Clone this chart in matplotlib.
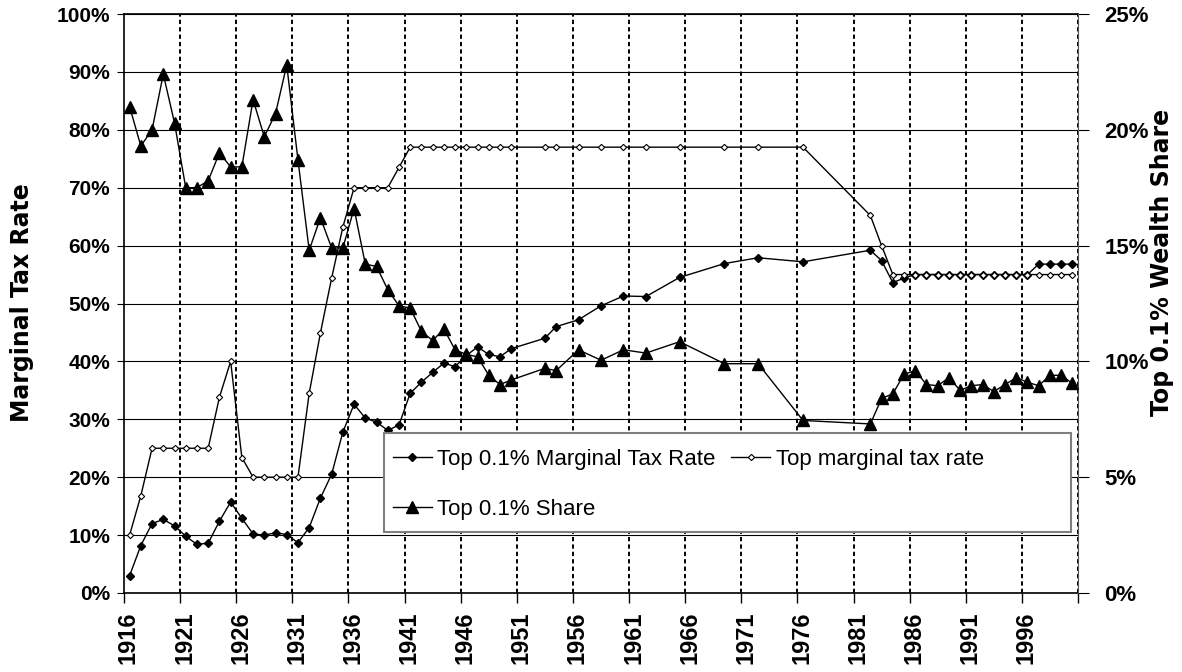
import numpy as np
import matplotlib.pyplot as plt
from matplotlib.patches import Rectangle

plt.rcParams['font.family'] = ['Liberation Sans', 'DejaVu Sans']

# ---------------------------------------------------------------------------
# DATA
years = ([1916, 1917, 1918, 1919, 1920, 1921, 1922, 1923, 1924, 1925,
          1926, 1927, 1928, 1929, 1930, 1931, 1932, 1933, 1934, 1935,
          1936, 1937, 1938, 1939, 1940, 1941, 1942, 1943, 1944, 1945,
          1946, 1947, 1948, 1949, 1950]
         + [1953, 1954, 1956, 1958, 1960, 1962, 1965, 1969, 1972, 1976]
         + [1982, 1983, 1984, 1985, 1986, 1987, 1988, 1989, 1990, 1991,
            1992, 1993, 1994, 1995, 1996, 1997, 1998, 1999, 2000])

# Top 0.1% marginal tax rate (%), left axis
top01_rate = [3.0, 8.2, 12.0, 12.7, 11.6, 9.8, 8.4, 8.6, 12.4, 15.7,
              12.9, 10.2, 10.0, 10.4, 10.1, 8.7, 11.3, 16.4, 20.5, 27.8,
              32.6, 30.2, 29.5, 28.1, 29.0, 34.5, 36.4, 38.1, 39.7, 39.1,
              41.0, 42.5, 41.2, 40.8, 42.2,
              44.0, 46.0, 47.2, 49.6, 51.3, 51.2, 54.5, 56.9, 57.9, 57.2,
              59.2, 57.4, 53.6, 54.4, 55.0, 55.0, 55.0, 55.0, 55.0, 55.0,
              55.0, 55.0, 55.0, 55.0, 55.0, 56.8, 56.8, 56.8, 56.8]

# Top marginal tax rate (%), left axis
top_rate = [10.0, 16.8, 25.0, 25.0, 25.0, 25.0, 25.0, 25.0, 33.8, 40.0,
            23.4, 20.0, 20.0, 20.0, 20.0, 20.0, 34.5, 44.9, 54.4, 63.2,
            70.0, 70.0, 70.0, 70.0, 73.5, 77.0, 77.0, 77.0, 77.0, 77.0,
            77.0, 77.0, 77.0, 77.0, 77.0,
            77.0, 77.0, 77.0, 77.0, 77.0, 77.0, 77.0, 77.0, 77.0, 77.0,
            65.2, 60.0, 55.0, 55.0, 55.0, 55.0, 55.0, 55.0, 55.0, 55.0,
            55.0, 55.0, 55.0, 55.0, 55.0, 55.0, 55.0, 55.0, 55.0]

# Top 0.1% wealth share (%), right axis
top01_share = [21.0, 19.3, 20.0, 22.4, 20.3, 17.5, 17.5, 17.8, 19.0, 18.4,
               18.4, 21.3, 19.7, 20.7, 22.8, 18.7, 14.8, 16.2, 14.9, 14.9,
               16.6, 14.2, 14.1, 13.1, 12.4, 12.3, 11.3, 10.9, 11.4, 10.5,
               10.3, 10.2, 9.4, 9.0, 9.2,
               9.7, 9.6, 10.5, 10.05, 10.5, 10.36, 10.85, 9.9, 9.9, 7.45,
               7.3, 8.4, 8.6, 9.45, 9.6, 9.0, 8.95, 9.3, 8.75, 8.95,
               9.0, 8.7, 9.0, 9.3, 9.1, 8.95, 9.4, 9.4, 9.05]

tick_years = [1916, 1921, 1926, 1931, 1936, 1941, 1946, 1951, 1956,
              1961, 1966, 1971, 1976, 1981, 1986, 1991, 1996]
left_ticks = [0, 10, 20, 30, 40, 50, 60, 70, 80, 90, 100]
right_ticks = [0, 5, 10, 15, 20, 25]

first_year = 1916
n_years = 85

# ---------------------------------------------------------------------------
# FIGURE
W, H = 1182, 672
fig = plt.figure(figsize=(W / 100, H / 100), dpi=100)
ax = fig.add_axes([124 / W, 79 / H, 954 / W, 579 / H])

x = np.array(years) - first_year + 0.5   # categories centred between ticks

ax.plot(x, top01_rate, color='black', lw=1.0, marker='D', ms=4.4,
        mfc='black', mec='black', label='Top 0.1% Marginal Tax Rate',
        zorder=3)
ax.plot(x, top_rate, color='black', lw=1.0, marker='D', ms=3.2,
        mfc='white', mec='black', mew=0.8, label='Top marginal tax rate',
        zorder=3)

ax.set_xlim(0, n_years)
ax.set_ylim(0, 100)

### GRID
ax.set_axisbelow(True)
ax.yaxis.grid(True, color='black', lw=0.8)
for b in range(5, n_years + 1, 5):
    ax.axvline(b, color='black', lw=1.4, ls=(0, (2.2, 1.6)), zorder=1)

### X AXIS
ax.set_xticks(range(0, n_years + 1, 5))
ax.set_xticklabels([])
ax.set_xticks([y - first_year + 0.4 for y in tick_years], minor=True)
ax.set_xticklabels([str(y) for y in tick_years], minor=True, rotation=90,
                   fontsize=17, fontweight='bold')
ax.tick_params(axis='x', which='major', direction='out', length=7,
               width=1, color='black')
ax.tick_params(axis='x', which='minor', length=0, pad=13)

### LEFT AXIS
ax.set_yticks(left_ticks)
ax.set_yticklabels([f'{v}%' for v in left_ticks], fontsize=15,
                   fontweight='bold')
ax.tick_params(axis='y', direction='out', length=5, pad=5)

for s in ['left', 'bottom', 'top']:
    ax.spines[s].set_color('black')
    ax.spines[s].set_linewidth(1.2)
ax.spines['right'].set_visible(False)

### RIGHT AXIS
ax2 = ax.twinx()
ax2.plot(x, top01_share, color='black', lw=1.0, marker='^', ms=8.5,
         mfc='black', mec='black', label='Top 0.1% Share', zorder=3)
ax2.set_ylim(0, 25)
ax2.set_yticks(right_ticks)
ax2.set_yticklabels([f'{v}%' for v in right_ticks], fontsize=16,
                    fontweight='bold')
ax2.tick_params(axis='y', direction='out', length=8, pad=11)
for s in ['left', 'bottom', 'top']:
    ax2.spines[s].set_visible(False)
ax2.spines['right'].set_color('#555555')
ax2.spines['right'].set_linewidth(0.8)

### AXIS TITLES
fig.text(22 / W, 1 - 303 / H, 'Marginal Tax Rate', rotation=90,
         ha='center', va='center', fontsize=17, fontweight='bold',
         family='DejaVu Sans')
fig.text(1162 / W, 1 - 262 / H, 'Top 0.1% Wealth Share', rotation=90,
         ha='center', va='center', fontsize=17, fontweight='bold',
         family='DejaVu Sans')

### LEGEND
box = Rectangle((384 / W, 1 - 532 / H), 687 / W, 99 / H,
                transform=fig.transFigure, facecolor='white',
                edgecolor='#7f7f7f', lw=1.5, zorder=4)
fig.add_artist(box)

h1, l1 = ax.get_legend_handles_labels()
h2, l2 = ax2.get_legend_handles_labels()
leg = fig.legend([h1[0], h2[0], h1[1]], [l1[0], l2[0], l1[1]], ncol=2,
                 loc='upper left', bbox_to_anchor=(393 / W, 1 - 449 / H),
                 frameon=False, fontsize=16, handlelength=1.75,
                 handletextpad=0.25, columnspacing=0.7, labelspacing=1.3,
                 borderpad=0, borderaxespad=0)
leg.set_zorder(6)

fig.savefig('out.png', dpi=100)
